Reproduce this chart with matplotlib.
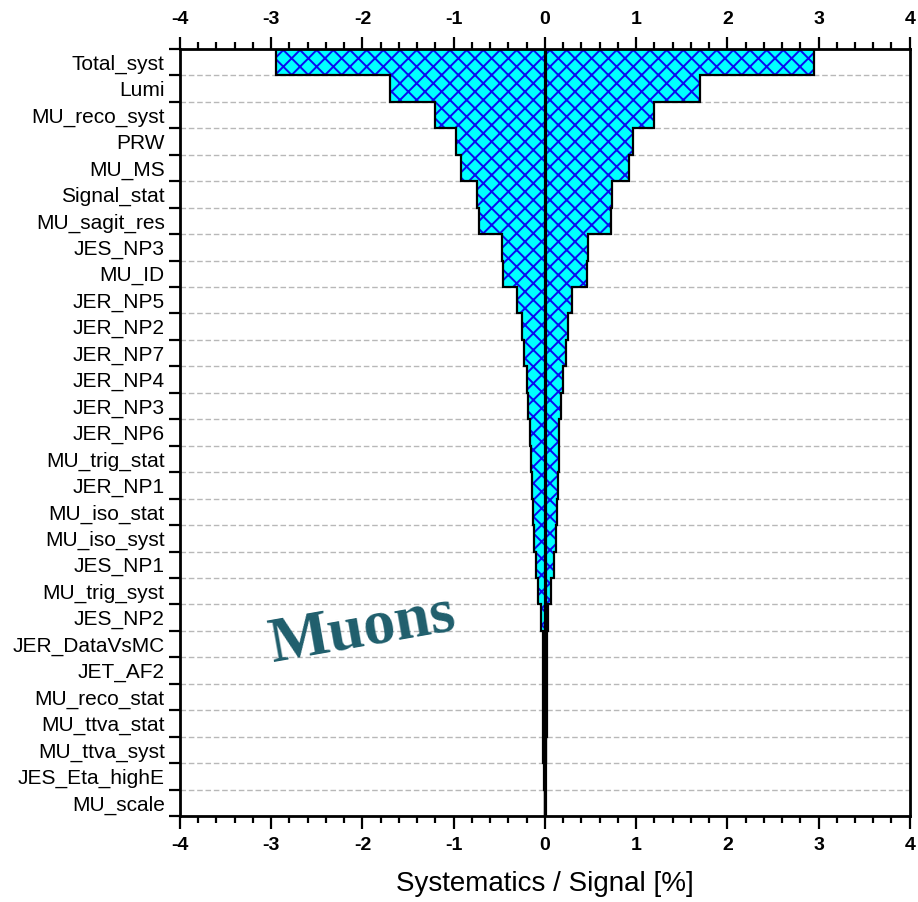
import numpy as np
import matplotlib
matplotlib.use("Agg")
import matplotlib.pyplot as plt
from matplotlib.ticker import MultipleLocator

# systematic sources, ordered from largest to smallest
names = [
    "Total_syst", "Lumi", "MU_reco_syst", "PRW", "MU_MS", "Signal_stat",
    "MU_sagit_res", "JES_NP3", "MU_ID", "JER_NP5", "JER_NP2", "JER_NP7",
    "JER_NP4", "JER_NP3", "JER_NP6", "MU_trig_stat", "JER_NP1", "MU_iso_stat",
    "MU_iso_syst", "JES_NP1", "MU_trig_syst", "JES_NP2", "JER_DataVsMC",
    "JET_AF2", "MU_reco_stat", "MU_ttva_stat", "MU_ttva_syst",
    "JES_Eta_highE", "MU_scale",
]
# relative size of each systematic, in percent of the signal
syst = [
    2.95, 1.70, 1.20, 0.97, 0.92, 0.74,
    0.72, 0.47, 0.46, 0.30, 0.25, 0.23,
    0.20, 0.18, 0.16, 0.15, 0.14, 0.13,
    0.12, 0.10, 0.07, 0.04, 0.025,
    0.02, 0.02, 0.02, 0.018,
    0.005, 0.002,
]
xticks = [-4, -3, -2, -1, 0, 1, 2, 3, 4]

plt.rcParams["font.family"] = ["Liberation Sans", "DejaVu Sans"]
plt.rcParams["hatch.linewidth"] = 1.4
plt.rcParams["axes.unicode_minus"] = False

vals = np.array(syst)
edges = np.arange(len(vals) + 1)

fig = plt.figure(figsize=(9.18, 9.02), dpi=100)
ax = fig.add_axes([0.196, 0.0953, 0.795, 0.8504])

# hatched band, symmetric around zero
ax.stairs(vals, edges, baseline=-vals, orientation="horizontal", fill=True,
          facecolor="#00ffff", edgecolor="#0a0af0", hatch="xx", linewidth=0,
          zorder=2)
# black stepped outline on top
ax.stairs(vals, edges, baseline=-vals, orientation="horizontal", fill=False,
          edgecolor="black", linewidth=1.6, zorder=3)
ax.axvline(0, color="black", lw=2.3, zorder=4)

ax.set_xlim(-4, 4)
ax.set_ylim(len(vals), 0)

# x axis: ticks on top and bottom, pointing outwards
ax.set_xticks(xticks)
ax.xaxis.set_minor_locator(MultipleLocator(0.2))
ax.tick_params(axis="x", which="both", top=True, bottom=True,
               labeltop=True, labelbottom=True, direction="out", width=1.6)
ax.tick_params(axis="x", which="major", length=9, pad=6)
ax.tick_params(axis="x", which="minor", length=5)
for lab in ax.get_xticklabels():
    lab.set_fontweight("bold")
    lab.set_fontsize(14)

# y axis: tick marks at the row boundaries, labels centred in the rows
ax.set_yticks(edges)
ax.set_yticklabels([])
ax.set_yticks(edges[:-1] + 0.5, minor=True)
ax.set_yticklabels(names, minor=True, fontsize=15)
ax.tick_params(axis="y", which="major", direction="out", length=8, width=1.6,
               right=False)
ax.tick_params(axis="y", which="minor", length=0, pad=11)

ax.grid(axis="y", which="major", color="#b8b8b8", linestyle=(0, (4, 2)),
        linewidth=1.0)
ax.set_axisbelow(True)

for sp in ax.spines.values():
    sp.set_linewidth(2.0)

ax.set_xlabel("Systematics / Signal [%]", fontsize=20, labelpad=12)

ax.text(-2.0, 22.0, "Muons", family=["Liberation Serif", "DejaVu Serif"],
        fontweight="bold", fontsize=46, color="#1f5e6c", rotation=10,
        ha="center", va="center", zorder=5)

fig.savefig("out.png", dpi=100)
